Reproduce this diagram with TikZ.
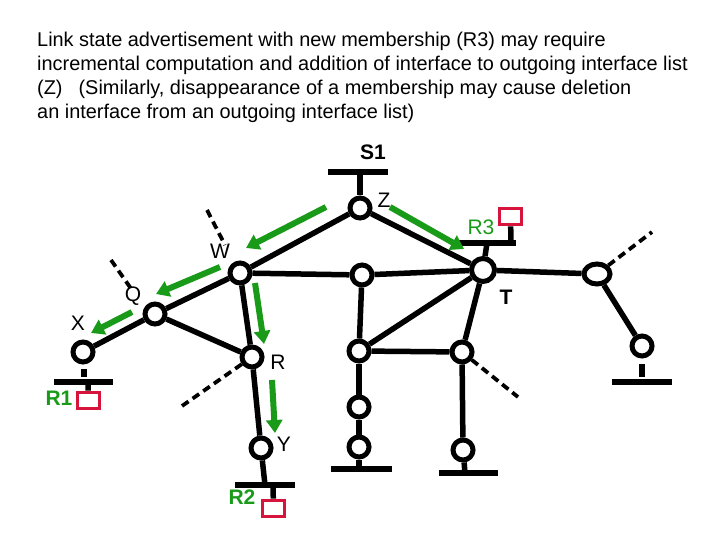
\documentclass[tikz,border=0pt]{standalone}
\usepackage{fontspec}
\setmainfont{Liberation Sans}
\usetikzlibrary{arrows.meta,shapes.geometric}
\definecolor{grn}{RGB}{25,155,25}
\definecolor{rbox}{RGB}{215,20,60}
\tikzset{
  rt/.style={circle,draw,fill=white,line width=5pt,minimum size=20pt,inner sep=0pt},
  lnk/.style={line width=5.5pt},
  bar/.style={line width=5.5pt},
  dsh/.style={line width=3.8pt,dash pattern=on 8pt off 5pt},
  garrow/.style={grn,line width=6pt,-{Triangle[length=13pt,width=16pt]}},
  hostbox/.style={draw=rbox,line width=3.8pt,fill=white,minimum width=22pt,minimum height=16pt,inner sep=0pt},
  lbl/.style={font=\fontsize{21}{21}\selectfont,inner sep=0pt},
  blbl/.style={font=\fontsize{21}{21}\selectfont\bfseries,inner sep=0pt},
  glbl/.style={lbl,text=grn},
  gblbl/.style={blbl,text=grn},
  title/.style={font=\fontsize{19.9}{19.9}\selectfont,inner sep=0pt,anchor=base west}
}
\begin{document}
\begin{tikzpicture}[x=1pt,y=-1pt]
\useasboundingbox (0,0) rectangle (720,540);
% title
\node[title] (t1) at (37,47) {Link state advertisement with new membership (R3) may require};
\node[title] (t2) at (37,71) {incremental computation and addition of interface to outgoing interface list};
\node[title] (t3) at (37,95) {(Z)\hspace{16pt}(Similarly, disappearance of a membership may cause deletion};
\node[title] (t4) at (37,119) {an interface from an outgoing interface list)};
% routers
\node[rt] (Z) at (360,208) {};
\node[rt] (W) at (240,273) {};
\node[rt] (C) at (362,275) {};
\node[rt,minimum size=23pt] (T) at (483,270) {};
\node[rt,ellipse,minimum width=26pt,minimum height=20pt] (E1) at (597,274) {};
\node[rt] (E2) at (642,346) {};
\node[rt] (Q) at (155,314) {};
\node[rt] (X) at (83,352) {};
\node[rt] (R) at (252,357) {};
\node[rt] (Y) at (261,448) {};
\node[rt] (D) at (359,351) {};
\node[rt] (D2) at (359,407) {};
\node[rt] (D3) at (359,447) {};
\node[rt] (F) at (462,352) {};
\node[rt] (F2) at (463,450) {};
% links
\draw[lnk] (Z) -- (W);
\draw[lnk] (Z) -- (T);
\draw[lnk] (W) -- (C);
\draw[lnk] (C) -- (T);
\draw[lnk] (T) -- (E1);
\draw[lnk] (E1) -- (E2);
\draw[lnk] (W) -- (Q);
\draw[lnk] (Q) -- (X);
\draw[lnk] (Q) -- (R);
\draw[lnk] (W) -- (R);
\draw[lnk] (R) -- (Y);
\draw[lnk] (C) -- (D);
\draw[lnk] (D) -- (D2);
\draw[lnk] (D2) -- (D3);
\draw[lnk] (D) -- (T);
\draw[lnk] (D) -- (F);
\draw[lnk] (F) -- (T);
\draw[lnk] (F) -- (F2);
% LANs
\coordinate (s1a) at (328,172); \coordinate (s1b) at (388,172); \coordinate (s1m) at (360,172);
\draw[bar] (s1a) -- (s1b);
\draw[lnk] (s1m) -- (Z);
\coordinate (t3a) at (458,243); \coordinate (t3b) at (516,243);
\coordinate (t3m) at (487,243); \coordinate (t3h) at (511,243);
\draw[bar] (t3a) -- (t3b);
\draw[lnk] (T) -- (t3m);
\node[hostbox] (R3box) at (510.5,216.5) {};
\draw[lnk] (t3h) -- (R3box);
% right lower LAN
\coordinate (e2s1) at (642,364); \coordinate (e2s2) at (642,377);
\coordinate (e2a) at (612,382); \coordinate (e2b) at (672,382);
\draw[lnk] (e2s1) -- (e2s2);
\draw[bar] (e2a) -- (e2b);
% D3 LAN
\coordinate (d3a) at (331,469); \coordinate (d3b) at (392,469); \coordinate (d3m) at (359,469);
\draw[bar] (d3a) -- (d3b);
\draw[lnk] (D3) -- (d3m);
% F2 LAN
\coordinate (f2a) at (439,473); \coordinate (f2b) at (498,473); \coordinate (f2m) at (465,473);
\draw[bar] (f2a) -- (f2b);
\draw[lnk] (F2) -- (f2m);
% X LAN (R1)
\coordinate (xs1) at (84,369); \coordinate (xs2) at (84,377);
\coordinate (xa) at (54,382); \coordinate (xb) at (113,382); \coordinate (xh) at (88,382);
\draw[lnk] (xs1) -- (xs2);
\draw[bar] (xa) -- (xb);
\node[hostbox] (R1box) at (88.5,400.5) {};
\draw[lnk] (xh) -- (R1box);
% Y LAN (R2)
\coordinate (ya) at (235,485); \coordinate (yb) at (295,485);
\coordinate (ym) at (265,485); \coordinate (yh) at (273,485);
\draw[bar] (ya) -- (yb);
\draw[lnk] (Y) -- (ym);
\node[hostbox] (R2box) at (273.5,508.5) {};
\draw[lnk] (yh) -- (R2box);
% dashed stubs
\coordinate (wd) at (207,210); \coordinate (wd2) at (225,245);
\draw[dsh] (wd) -- (wd2);
\coordinate (qd) at (111,260); \coordinate (qd2) at (132,290);
\draw[dsh] (qd) -- (qd2);
\coordinate (rd) at (182,406);
\draw[dsh] (R) -- (rd);
\coordinate (fd) at (518,397);
\draw[dsh] (F) -- (fd);
\coordinate (ed) at (652,232);
\draw[dsh] (E1) -- (ed);
% labels
\node[blbl] (S1) at (373,152) {S1};
\node[lbl] (Zl) at (384,200) {Z};
\node[lbl] (Wl) at (220,251) {W};
\node[lbl] (Ql) at (133,296) {Q};
\node[lbl] (Xl) at (78,323) {X};
\node[lbl] (Rl) at (278,362) {R};
\node[lbl] (Yl) at (284,444) {Y};
\node[blbl] (Tl) at (506,297) {T};
\node[glbl] (R3l) at (481,227) {R3};
\node[gblbl] (R1l) at (59,398) {R1};
\node[gblbl] (R2l) at (242,497) {R2};
% green arrows
\coordinate (a1s) at (326,207); \coordinate (a1e) at (246,248);
\coordinate (a2s) at (220,267); \coordinate (a2e) at (156,294);
\coordinate (a3s) at (132,312); \coordinate (a3e) at (91,333);
\coordinate (a4s) at (255,283); \coordinate (a4e) at (264,344);
\coordinate (a5s) at (272,380); \coordinate (a5e) at (275,433);
\coordinate (a6s) at (390,207); \coordinate (a6e) at (464,249);
\draw[garrow] (a1s) -- (a1e);
\draw[garrow] (a2s) -- (a2e);
\draw[garrow] (a3s) -- (a3e);
\draw[garrow] (a4s) -- (a4e);
\draw[garrow] (a5s) -- (a5e);
\draw[garrow] (a6s) -- (a6e);
\end{tikzpicture}
\end{document}
